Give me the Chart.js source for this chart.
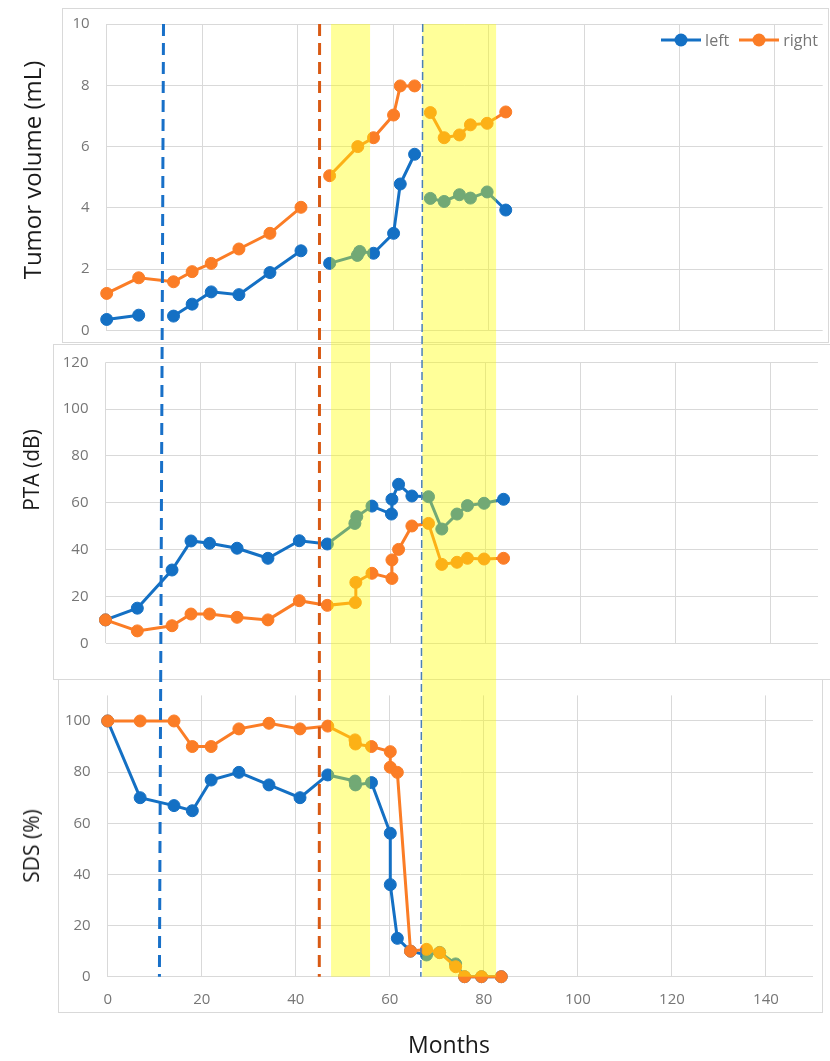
<!DOCTYPE html>
<html lang="en">
<head>
<meta charset="UTF-8">
<title>Tumor volume, PTA and SDS</title>
<script src="https://cdn.jsdelivr.net/npm/chart.js"></script>
<style>
  body { margin: 0; background: #fff; font-family: 'Open Sans', sans-serif; }
  #page { position: relative; width: 830px; height: 1061px; overflow: hidden; }
  .box { position: absolute; border: 1px solid #d9d9d9; box-sizing: border-box; }
  canvas.panel { position: absolute; left: 0; }
  .ytitle { position: absolute; transform: translate(-50%, -50%) rotate(-90deg); white-space: nowrap; color: #1a1a1a; }
  #xtitle { position: absolute; transform: translate(-50%, -50%); white-space: nowrap; color: #1a1a1a; font-size: 23px; }
  #legend { position: absolute; right: 12px; top: 30px; display: flex; align-items: center; font-size: 16px; line-height: 20px; color: #767676; }
  #legend .item { display: flex; align-items: center; margin-left: 10px; }
  #legend canvas { margin-right: 4px; }
  #overlay { position: absolute; left: 0; top: 0; pointer-events: none; }
</style>
</head>
<body>
<div id="page">
  <div class="box" style="left:62px; top:8px; width:767px; height:335px;"></div>
  <div class="box" style="left:53px; top:344px; width:800px; height:336px;"></div>
  <div class="box" style="left:58px; top:679px; width:765px; height:334px;"></div>

  <canvas id="volChart" class="panel" width="830" height="343" style="top:0px"></canvas>
  <canvas id="ptaChart" class="panel" width="830" height="337" style="top:343px"></canvas>
  <canvas id="sdsChart" class="panel" width="830" height="381" style="top:680px"></canvas>

  <div class="ytitle" style="left:31px; top:170px; font-size:24px;">Tumor volume (mL)</div>
  <div class="ytitle" style="left:31px; top:470px; font-size:21px;">PTA (dB)</div>
  <div class="ytitle" style="left:31px; top:846px; font-size:21px;">SDS (%)</div>
  <div id="xtitle" style="left:449px; top:1044px;">Months</div>
  <div id="legend"></div>

  <canvas id="overlay" width="830" height="1061"></canvas>
</div>

<script>
// ---- data (months since first visit) ----
const volLeftMonths  = [0, 6.7, 10, 14.0, 17.9, 21.9, 27.7, 34.2, 40.7, 43.7, 46.7, 52.5, 53.0, 55.9, 60.1, 61.5, 64.5, 66.2, 67.8, 70.7, 73.9, 76.2, 79.7, 83.6];
const volLeft        = [0.36, 0.50, null, 0.47, 0.86, 1.26, 1.17, 1.89, 2.60, null, 2.19, 2.45, 2.58, 2.52, 3.17, 4.78, 5.75, null, 4.31, 4.21, 4.43, 4.32, 4.52, 3.93];
const volRightMonths = [0, 6.7, 14.0, 17.9, 21.9, 27.7, 34.2, 40.7, 43.7, 46.7, 52.6, 55.9, 60.1, 61.5, 64.5, 66.2, 67.8, 70.7, 73.9, 76.2, 79.7, 83.6];
const volRight       = [1.21, 1.72, 1.59, 1.92, 2.19, 2.66, 3.17, 4.02, null, 5.05, 6.00, 6.29, 7.03, 7.98, 7.98, null, 7.11, 6.29, 6.38, 6.71, 6.76, 7.13];

const ptaLeftMonths  = [0, 6.7, 14, 18, 21.9, 27.7, 34.2, 40.8, 46.7, 52.5, 52.9, 56.1, 60.2, 60.3, 61.7, 64.5, 68, 70.8, 74, 76.2, 79.7, 83.8];
const ptaLeft        = [10, 15, 31.3, 43.7, 42.7, 40.6, 36.3, 43.8, 42.4, 51.2, 54.1, 58.6, 55.2, 61.5, 67.9, 62.9, 62.6, 48.8, 55.2, 58.8, 59.8, 61.5];
const ptaRightMonths = [0, 6.7, 14, 18, 21.9, 27.7, 34.2, 40.8, 46.7, 52.6, 52.7, 56.1, 60.3, 60.3, 61.7, 64.5, 68, 70.8, 74, 76.2, 79.7, 83.8];
const ptaRight       = [10, 5.3, 7.5, 12.5, 12.5, 11.1, 10.0, 18.2, 16.2, 17.4, 26.0, 29.9, 27.7, 35.6, 40.1, 50.1, 51.2, 33.7, 34.6, 36.3, 36.0, 36.3];

const sdsMonths = [0, 6.9, 14.1, 18, 22, 27.9, 34.3, 40.9, 46.8, 52.6, 52.7, 56.1, 60.1, 60.1, 61.6, 64.4, 67.8, 70.6, 74, 75.9, 79.5, 83.7];
const sdsLeft   = [100, 70, 66.9, 64.9, 76.9, 79.9, 75, 70, 78.9, 76.5, 75, 75.9, 56.1, 36, 15, 10, 8.5, 9.5, 5, 0, 0, 0];
const sdsRight  = [100, 100, 100, 90, 90, 96.9, 99.1, 96.9, 98, 92.6, 91, 90, 88, 81.9, 79.9, 10, 10.7, 9.4, 3.9, 0, 0, 0];

// treatment periods (shaded) and event markers (dashed)
const bandStart = [47.5, 66.9];
const bandEnd   = [55.8, 82.6];
const markerTop    = [11.9, 44.6, 66.2];
const markerBottom = [11.0, 45.0, 66.6];
const markerColors = ['#1870c8', '#d85a14', '#4a7fb8'];
const markerWidths = [3, 3, 1.5];

const seriesNames = ['left', 'right'];
const BLUE = '#1470c4';
const ORANGE = '#fb7d26';
const GRID = '#d9d9d9';
const TICK = '#767676';
const FONT = "'Open Sans', sans-serif";

function pts(months, vals) {
  return months.map((m, i) => ({ x: m, y: vals[i] }));
}

function legendSymbol(color) {
  const c = document.createElement('canvas');
  c.width = 40; c.height = 14;
  const g = c.getContext('2d');
  g.strokeStyle = color; g.lineWidth = 3;
  g.beginPath(); g.moveTo(0, 7); g.lineTo(40, 7); g.stroke();
  g.fillStyle = color;
  g.beginPath(); g.arc(20, 7, 6.5, 0, Math.PI * 2); g.fill();
  return c;
}

function series(label, data, color, order) {
  return {
    label, data, order,
    borderColor: color, backgroundColor: color,
    pointBackgroundColor: color, pointBorderColor: color,
    borderWidth: 3, pointRadius: 6, pointBorderWidth: 1,
    spanGaps: false, clip: false, tension: 0
  };
}

// area: {left, right, top, bottom, xh} in canvas pixels
function makePanel(id, datasets, yMax, yStep, area, showX) {
  const canvas = document.getElementById(id);
  return new Chart(canvas.getContext('2d'), {
    type: 'line',
    data: { datasets },
    options: {
      responsive: false,
      animation: false,
      events: [],
      layout: { padding: { left: 0, top: area.top, right: canvas.width - area.right, bottom: canvas.height - area.bottom - area.xh } },
      scales: {
        x: {
          type: 'linear', min: 0, max: 150,
          afterFit: s => { s.height = area.xh; s.paddingLeft = 0; s.paddingRight = 0; },
          grid: { color: GRID, lineWidth: 1, drawTicks: false },
          border: { display: false },
          ticks: { display: showX, stepSize: 20, includeBounds: false, padding: 14, color: TICK, font: { family: FONT, size: 15 } }
        },
        y: {
          min: 0, max: yMax,
          afterFit: s => { s.width = area.left; s.paddingTop = 0; s.paddingBottom = 0; },
          grid: { color: GRID, lineWidth: 1, drawTicks: false },
          border: { display: false },
          ticks: { stepSize: yStep, includeBounds: false, padding: 17, color: TICK, font: { family: FONT, size: 15 } }
        }
      },
      plugins: {
        tooltip: { enabled: false },
        legend: { display: false }
      }
    }
  });
}

const volChart = makePanel('volChart', [
  series(seriesNames[0], pts(volLeftMonths, volLeft), BLUE, 1),
  series(seriesNames[1], pts(volRightMonths, volRight), ORANGE, 0)
], 10, 2, { left: 106.7, right: 822.7, top: 24, bottom: 330.5, xh: 0 }, false);

const ptaChart = makePanel('ptaChart', [
  series(seriesNames[0], pts(ptaLeftMonths, ptaLeft), BLUE, 1),
  series(seriesNames[1], pts(ptaRightMonths, ptaRight), ORANGE, 0)
], 120, 20, { left: 105.5, right: 818, top: 19.3, bottom: 300.3, xh: 0 }, false);

const sdsChart = makePanel('sdsChart', [
  series(seriesNames[0], pts(sdsMonths, sdsLeft), BLUE, 1),
  series(seriesNames[1], pts(sdsMonths, sdsRight), ORANGE, 0)
], 110, 20, { left: 107.7, right: 813, top: 15.4, bottom: 296.7, xh: 40 }, true);

// legend for the top panel, built from its datasets
const legendEl = document.getElementById('legend');
volChart.data.datasets.forEach(ds => {
  const item = document.createElement('span');
  item.className = 'item';
  item.appendChild(legendSymbol(ds.borderColor));
  item.appendChild(document.createTextNode(ds.label));
  legendEl.appendChild(item);
});

// shaded periods and dashed markers run through all three panels
function drawOverlay() {
  const g = document.getElementById('overlay').getContext('2d');
  const y0 = volChart.canvas.offsetTop + volChart.chartArea.top;
  const y1 = sdsChart.canvas.offsetTop + sdsChart.chartArea.bottom;
  const xTop = volChart.scales.x, xBot = sdsChart.scales.x;

  g.fillStyle = 'rgba(255, 255, 0, 0.4)';
  bandStart.forEach((s, i) => {
    const a = xBot.getPixelForValue(s), b = xBot.getPixelForValue(bandEnd[i]);
    g.fillRect(a, y0, b - a, y1 - y0);
  });

  markerTop.forEach((m, i) => {
    g.strokeStyle = markerColors[i];
    g.lineWidth = markerWidths[i];
    g.setLineDash(markerWidths[i] > 2 ? [12, 7] : [8, 4]);
    g.beginPath();
    g.moveTo(xTop.getPixelForValue(m), y0);
    g.lineTo(xBot.getPixelForValue(markerBottom[i]), y1);
    g.stroke();
  });
}
drawOverlay();
</script>
</body>
</html>
